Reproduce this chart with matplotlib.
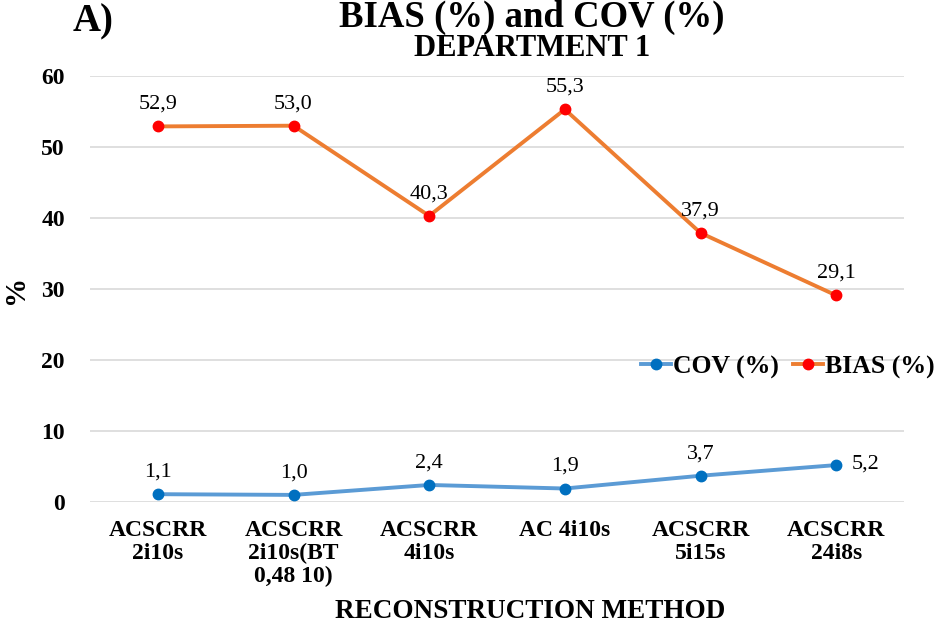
import matplotlib
matplotlib.use("Agg")
import matplotlib.pyplot as plt

categories = ["ACSCRR\n2i10s", "ACSCRR\n2i10s(BT\n0,48 10)", "ACSCRR\n4i10s",
              "AC 4i10s", "ACSCRR\n5i15s", "ACSCRR\n24i8s"]
cov = [1.1, 1.0, 2.4, 1.9, 3.7, 5.2]
bias = [52.9, 53.0, 40.3, 55.3, 37.9, 29.1]
yticks = [0, 10, 20, 30, 40, 50, 60]

plt.rcParams['font.family'] = ['Liberation Serif', 'DejaVu Serif']

W, H = 944, 626
fig = plt.figure(figsize=(W / 100, H / 100), dpi=100)
ax = fig.add_axes([90 / W, 1 - 502 / H, 814 / W, 426 / H])
x = list(range(len(categories)))

ax.plot(x, cov, color='#5B9BD5', lw=2.8, marker='o', ms=7.5, mfc='#0070C0', mec='#0070C0',
        label='COV (%)', zorder=3)
ax.plot(x, bias, color='#ED7D31', lw=2.8, marker='o', ms=7.5, mfc='#FF0000', mec='#FF0000',
        label='BIAS (%)', zorder=3)

def fmt(v):
    return f"{v:.1f}".replace('.', ',')

for i, v in enumerate(bias):
    ax.annotate(fmt(v), (i, v), xytext=(0, 9), textcoords='offset points',
                ha='center', va='bottom', fontsize=16)
for i, v in enumerate(cov):
    if i == len(cov) - 1:
        ax.annotate(fmt(v), (i, v), xytext=(11, 1), textcoords='offset points',
                    ha='left', va='center', fontsize=16)
    else:
        ax.annotate(fmt(v), (i, v), xytext=(0, 9), textcoords='offset points',
                    ha='center', va='bottom', fontsize=16)

ax.set_xlim(-0.5, len(categories) - 0.5)
ax.set_ylim(0, 60)
ax.set_yticks(yticks)
ax.set_yticklabels([str(t) for t in yticks], fontsize=17, fontweight='bold')
ax.set_xticks(x)
ax.set_xticklabels(categories, fontsize=17, fontweight='bold', linespacing=1.1)
ax.tick_params(axis='both', length=0)
ax.tick_params(axis='x', pad=13)
ax.tick_params(axis='y', pad=18)
ax.grid(axis='y', color='#D9D9D9', lw=1.2)
ax.set_axisbelow(True)
for s in ax.spines.values():
    s.set_visible(False)

fig.text(15 / W, 1 - 289 / H, '%', rotation=90, ha='center', va='center',
         fontsize=21, fontweight='bold')
fig.text(530 / W, 1 - 611 / H, 'RECONSTRUCTION METHOD', ha='center', va='center',
         fontsize=19.5, fontweight='bold')
fig.text(532 / W, 1 - 17 / H, 'BIAS (%) and COV (%)', ha='center', va='center',
         fontsize=26.5, fontweight='bold')
fig.text(532 / W, 1 - 48 / H, 'DEPARTMENT 1', ha='center', va='center',
         fontsize=22, fontweight='bold')
fig.text(73 / W, 1 - 22 / H, 'A)', ha='left', va='center', fontsize=28, fontweight='bold')

leg = ax.legend(loc='center left', bbox_to_anchor=(641 / W, 1 - 367 / H),
                bbox_transform=fig.transFigure, ncol=2, frameon=False,
                prop={'size': 18.5, 'weight': 'bold'}, handlelength=1.15, columnspacing=0.55,
                handletextpad=0.1, borderpad=0, borderaxespad=0, markerscale=1.0)

fig.savefig('out.png', dpi=100)
